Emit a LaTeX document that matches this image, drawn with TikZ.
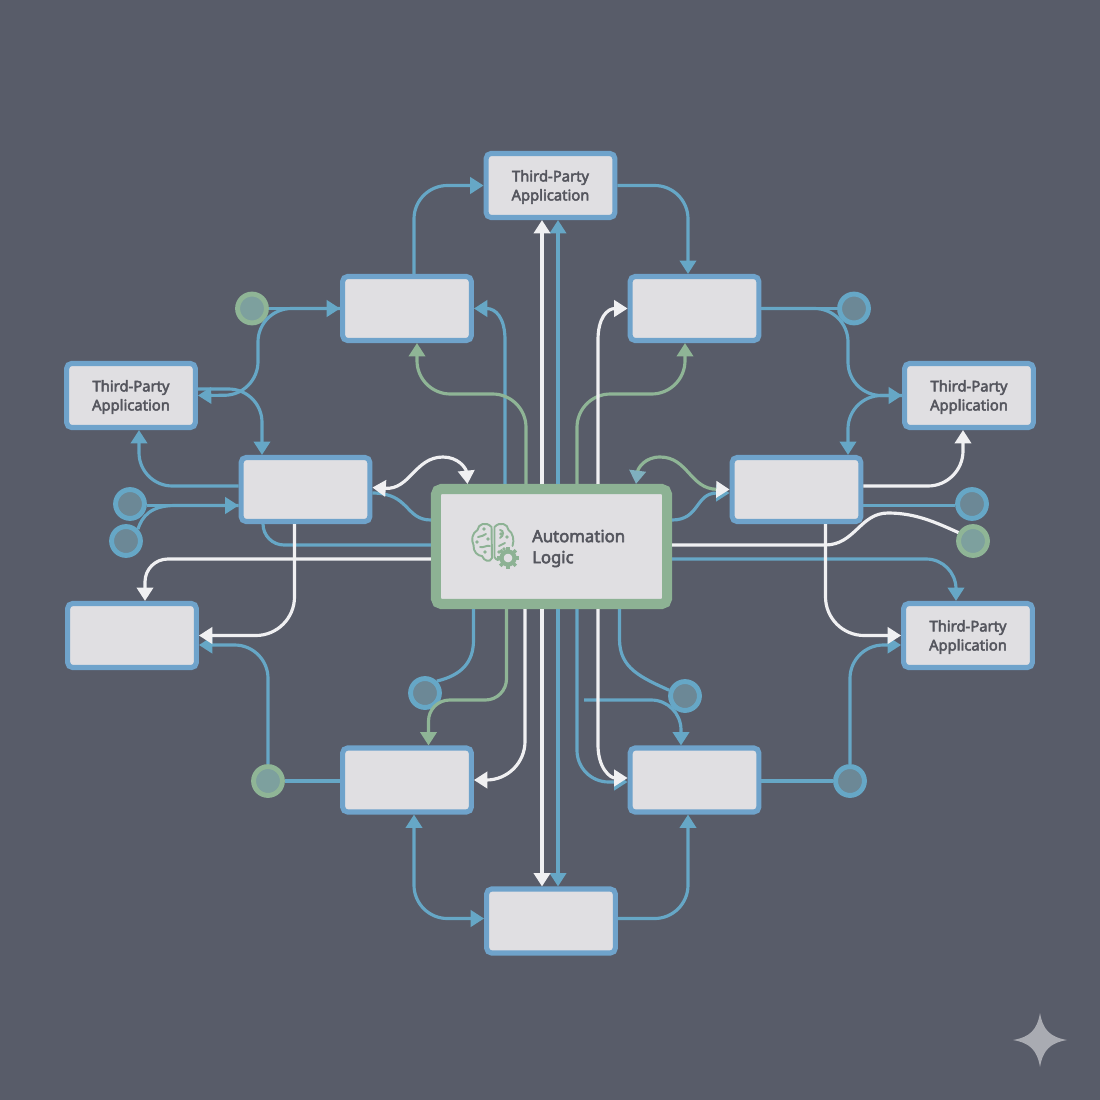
\documentclass[tikz,border=0pt]{standalone}
\usepackage{fontspec}
\setmainfont{Noto Sans}[AutoFakeBold=3.2]
\usetikzlibrary{arrows.meta}
\definecolor{bgslate}{HTML}{585C69}
\definecolor{boxface}{HTML}{E0DFE2}
\definecolor{boxedge}{HTML}{6FA3CB}
\definecolor{lineblue}{HTML}{66A7C6}
\definecolor{linegreen}{HTML}{8FB596}
\definecolor{linewhite}{HTML}{F0F0F2}
\definecolor{coreedge}{HTML}{8DB294}
\definecolor{labelgray}{HTML}{55565E}
\definecolor{hubinblue}{HTML}{6C8896}
\definecolor{hubingreen}{HTML}{7DA09E}
\definecolor{tipteal}{HTML}{7FB0BE}
\definecolor{sparkgray}{HTML}{A9ABB2}
\tikzset{
  apptip/.tip={Triangle[length=3.8pt,width=4.6pt]},
  appbox/.style={draw=boxedge,fill=boxface,line width=1.45pt,rounded corners=1.4pt,minimum width=36.6pt,minimum height=18.2pt,inner sep=0pt},
  applabel/.style={text=labelgray,align=center,inner sep=0pt,yshift=-.45pt,font=\fontsize{4.2}{5.4}\selectfont\bfseries},
  corebox/.style={draw=coreedge,fill=boxface,line width=2.85pt,rounded corners=1.5pt,minimum width=65.7pt,minimum height=32.7pt,inner sep=0pt},
  corelabel/.style={text=labelgray,align=left,inner sep=0pt,font=\fontsize{4.75}{6}\selectfont\bfseries},
  hubblue/.style={circle,draw=lineblue,fill=hubinblue,line width=1.4pt,minimum size=8.2pt,inner sep=0pt},
  hubgreen/.style={circle,draw=linegreen,fill=hubingreen,line width=1.4pt,minimum size=8.2pt,inner sep=0pt},
  linkblue/.style={draw=lineblue,line width=.9pt,rounded corners=9.5pt},
  linkgreen/.style={draw=linegreen,line width=.9pt,rounded corners=9.5pt},
  linkwhite/.style={draw=linewhite,line width=.9pt,rounded corners=11pt},
  brainline/.style={draw=coreedge,line width=.55pt,line cap=round},
}
\begin{document}
\begin{tikzpicture}[x=0.01cm,y=-0.01cm]

    % Latar
    \fill[bgslate] (0,0) rectangle (1100,1100);

    % Kotak aplikasi
    \node[appbox] (apptop) at (550.5,185.5) {};
    \node[appbox] (appleft) at (131,395.5) {};
    \node[appbox] (appright) at (969,395.5) {};
    \node[appbox] (applow) at (968,635.5) {};
    \node[applabel] (apptopname) at (apptop) {Third-Party\\Application};
    \node[applabel] (appleftname) at (appleft) {Third-Party\\Application};
    \node[applabel] (apprightname) at (appright) {Third-Party\\Application};
    \node[applabel] (applowname) at (applow) {Third-Party\\Application};

    % Kotak kosong
    \node[appbox] (boxtl) at (407,308.5) {};
    \node[appbox] (boxtr) at (694.5,308.5) {};
    \node[appbox] (boxml) at (305.5,489.5) {};
    \node[appbox] (boxmr) at (796.5,489.5) {};
    \node[appbox] (boxll) at (132,635.5) {};
    \node[appbox] (boxbl) at (407,780) {};
    \node[appbox] (boxbr) at (694.5,780) {};
    \node[appbox] (boxbot) at (551,921) {};

    % Kotak tengah
    \node[corebox] (core) at (551.5,546.5) {};
    \node[corelabel,anchor=west] (corename) at (531.5,548.5) {Automation\\Logic};

    % Titik bulat
    \node[hubgreen] (hubtl) at (252,308.5) {};
    \node[hubblue] (hubtr) at (854,308.5) {};
    \node[hubblue] (hubla) at (130,504) {};
    \node[hubblue] (hublb) at (126,541) {};
    \node[hubblue] (hubra) at (972,504) {};
    \node[hubgreen] (hubrb) at (973,541) {};
    \node[hubblue] (hubbla) at (425,693) {};
    \node[hubblue] (hubbrb) at (685,696) {};
    \node[hubgreen] (hubbl) at (268,781) {};
    \node[hubblue] (hubbr) at (850,781) {};
    \coordinate (branch) at (584,700);

    % Garis biru
    \draw[linkblue,-apptip] ([shift={(7,0)}]boxtl.north) |- (apptop.west);
    \draw[linkblue,-apptip] (apptop.east) -| ([shift={(-6.5,0)}]boxtr.north);
    \draw[linkblue,-apptip,rounded corners=0pt] ([shift={(-46.5,0)}]core.north) -- (505,340) .. controls (505,318) and (496,308.5) .. (boxtl.east);
    \draw[linkblue,-apptip] ([shift={(6.5,0)}]core.north) -- ([shift={(7.5,0)}]apptop.south);
    \draw[linkblue,-apptip] (hubtl.east) -- (boxtl.west);
    \draw[linkblue,-apptip] (boxtl.west) -- (258,308.5) -- (258,395) -- (appleft.east);
    \draw[linkblue,-apptip] ([shift={(0,-6.5)}]appleft.east) -| ([shift={(-43.5,0)}]boxml.north);
    \draw[linkblue,-apptip] ([shift={(0,-3.5)}]boxml.west) -| ([shift={(8,0)}]appleft.south);
    \draw[linkblue,-apptip] ([shift={(0,1.5)}]hubla.east) -- ([shift={(0,16)}]boxml.west);
    \draw[linkblue,rounded corners=0pt] (hublb.north east) .. controls (142,517) and (150,505.5) .. (175,505.5) -- ([shift={(0,16)}]boxml.west);
    \draw[linkblue,rounded corners=0pt] ([shift={(0,3.5)}]boxml.east) .. controls (410,493) and (405,520) .. ([shift={(0,-26.5)}]core.west);
    \draw[linkblue,rounded corners=6pt] ([shift={(-42.5,0)}]boxml.south) |- ([shift={(0,-1.5)}]core.west);
    \draw[linkblue,-apptip] (hubbl.north) |- ([shift={(0,9.5)}]boxll.east);
    \draw[linkblue] (hubbl.east) -- ([shift={(0,1)}]boxbl.west);
    \draw[linkblue,rounded corners=0pt] ([shift={(-78,0)}]core.south) -- (473.5,640) .. controls (473.5,662) and (462,675) .. (hubbla.north east);
    \draw[linkblue,-apptip] ([shift={(6.5,0)}]core.south) -- ([shift={(7,0)}]boxbot.north);
    \draw[linkblue,-apptip,rounded corners=9pt] ([shift={(25.5,0)}]core.south) |- ([shift={(0,2)}]boxbr.west);
    \draw[linkblue,rounded corners=0pt] ([shift={(68,0)}]core.south) -- (619.5,640) .. controls (620,668) and (640,677) .. (hubbrb.160);
    \draw[linkblue,-apptip,rounded corners=8.5pt] (branch) -| ([shift={(-13.5,0)}]boxbr.north);
    \draw[linkblue] ([shift={(0,1)}]boxbr.east) -- (hubbr.west);
    \draw[linkblue,-apptip] (hubbr.north) |- ([shift={(0,9.5)}]applow.west);
    \draw[linkblue,apptip-apptip] ([shift={(7,0)}]boxbl.south) |- ([shift={(0,-2.5)}]boxbot.west);
    \draw[linkblue,-apptip] ([shift={(0,-2.5)}]boxbot.east) -| ([shift={(-6.5,0)}]boxbr.south);
    \draw[linkblue] (boxtr.east) -- (hubtr.west);
    \draw[linkblue,-apptip] (boxtr.east) -- (848,308.5) -- (848,395.5) -- (appright.west);
    \draw[linkblue,-apptip] (appright.west) -| ([shift={(51.5,0)}]boxmr.north);
    \draw[linkblue] ([shift={(0,16)}]boxmr.east) -- ([shift={(0,1.5)}]hubra.west);
    \draw[linkblue,-apptip,rounded corners=8.5pt] ([shift={(0,12.5)}]core.east) -| ([shift={(-12,0)}]applow.north);
    \draw[linkblue,-apptip,rounded corners=0pt] ([shift={(0,-26.5)}]core.east) .. controls (700,520) and (695,493) .. ([shift={(0,3.5)}]boxmr.west);

    % Garis hijau
    \draw[linkgreen,-apptip] ([shift={(-25.5,0)}]core.north) -- (526,394) -- (417,394) -- ([shift={(10,0)}]boxtl.south);
    \draw[linkgreen,-apptip] ([shift={(25.5,0)}]core.north) -- (577,394) -- (685,394) -- ([shift={(-9.5,0)}]boxtr.south);
    \draw[linkgreen,-apptip,rounded corners=6pt] ([shift={(-45,0)}]core.south) -- (506.5,700) -- (428.5,700) -- ([shift={(21.5,0)}]boxbl.north);
    \draw[linkgreen,rounded corners=0pt,{Triangle[length=3.8pt,width=4.6pt,color=tipteal]}-{Triangle[length=3.8pt,width=4.6pt,color=linewhite]}] ([shift={(84.5,0)}]core.north) .. controls (638,468) and (645,457) .. (660,457) .. controls (688,457) and (690,489) .. (boxmr.west);

    % Garis putih
    \draw[linkwhite,-apptip] ([shift={(-9.5,0)}]core.north) -- ([shift={(-8.5,0)}]apptop.south);
    \draw[linkwhite,-apptip,rounded corners=0pt] ([shift={(46.5,0)}]core.north) -- (598,340) .. controls (598,318) and (607,308.5) .. (boxtr.west);
    \draw[linkwhite,apptip-apptip,rounded corners=0pt] ([shift={(0,-2)}]boxml.east) .. controls (410,490) and (415,457) .. (443,457) .. controls (458,457) and (466,468) .. ([shift={(-84,0)}]core.north);
    \draw[linkwhite,-apptip,rounded corners=6.5pt] ([shift={(0,12.5)}]core.west) -| ([shift={(13,0)}]boxll.north);
    \draw[linkwhite,-apptip] ([shift={(-11,0)}]boxml.south) |- (boxll.east);
    \draw[linkwhite,-apptip] ([shift={(-26.5,0)}]core.south) |- (boxbl.east);
    \draw[linkwhite,-apptip] ([shift={(-9.5,0)}]core.south) -- ([shift={(-9,0)}]boxbot.north);
    \draw[linkwhite,-apptip,rounded corners=0pt] ([shift={(46.5,0)}]core.south) -- (598,745) .. controls (598,768) and (610,778) .. ([shift={(0,-2)}]boxbr.west);
    \draw[linkwhite,-apptip,rounded corners=10pt] ([shift={(0,-3.5)}]boxmr.east) -| ([shift={(-6,0)}]appright.south);
    \draw[linkwhite,rounded corners=0pt] ([shift={(0,-1.5)}]core.east) -- (825,545) .. controls (855,545) and (860,513) .. (888,513) .. controls (915,513) and (935,522) .. (hubrb.150);
    \draw[linkwhite,-apptip] ([shift={(29,0)}]boxmr.south) |- (applow.west);

    % Ikon otak dan roda gigi
    \draw[brainline] (491.5,527) .. controls (486,521) and (478,524) .. (477.5,530) .. controls (472,533) and (471,540) .. (473.5,545) .. controls (473,552) and (478,556) .. (482,556) .. controls (484,561) and (490,563) .. (492,558) -- cycle;
    \draw[brainline] (494.5,527) .. controls (500,521) and (508,524) .. (508.5,530) .. controls (513,533) and (514.5,540) .. (512.5,546) (494.5,527) -- (494.5,557) .. controls (496,560) and (499,561) .. (501,559);
    \draw[brainline] (478,537) .. controls (481,535) and (484,537) .. (486,534) (480,547) .. controls (484,548) and (486,545) .. (490,546) (500,530) .. controls (504,530) and (504,536) .. (500,538) (499,546) -- (505,543);
    \foreach \dotx/\doty in {484/529,488/539,477/542,485/552,501/534,507/537,499/552,504/549} {
      \fill[coreedge] (\dotx,\doty) circle (1.8);
    }
    \foreach \gearang in {0,45,...,315} {
      \draw[draw=coreedge,line width=1pt] (508,558) -- ++(\gearang:11);
    }
    \draw[draw=coreedge,fill=boxface,line width=1.2pt] (508,558) circle (6.5);

    % Bintang sudut
    \fill[sparkgray] (1040,1013) .. controls (1043,1030) and (1050,1037) .. (1067,1040) .. controls (1050,1043) and (1043,1050) .. (1040,1067) .. controls (1037,1050) and (1030,1043) .. (1013,1040) .. controls (1030,1037) and (1037,1030) .. (1040,1013);

\end{tikzpicture}
\end{document}
